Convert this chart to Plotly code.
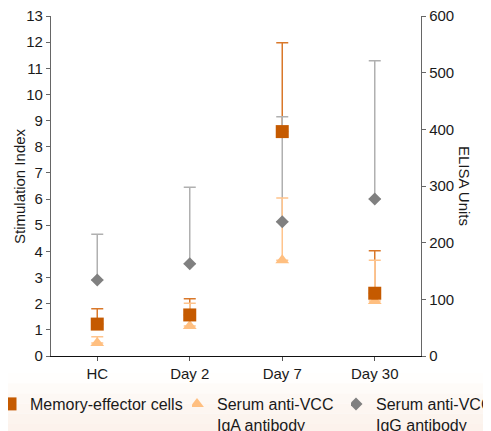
import plotly.graph_objects as go

categories = ["HC", "Day 2", "Day 7", "Day 30"]

memory_si = [1.22, 1.57, 8.58, 2.40]
memory_si_upper = [1.81, 2.19, 11.98, 4.02]

iga_elisa = [23, 53, 169, 97]
iga_elisa_upper = [34, 93, 279, 169]

igg_elisa = [134, 163, 237, 277]
igg_elisa_upper = [215, 298, 422, 521]

left_ticks = list(range(0, 14))
right_ticks = [0, 100, 200, 300, 400, 500, 600]

names = ["Memory-effector cells", "Serum anti-VCC<br>IgA antibody", "Serum anti-VCC<br>IgG antibody"]

c_mem = "#C55A00"
c_mem_err = "#D9782A"
c_iga = "#FFBF80"
c_iga_err = "#FFC48C"
c_igg = "#808080"
c_igg_err = "#B0B0B0"

FONT = "Liberation Sans, Arial, sans-serif"
TXT = "#1a1a1a"


def up(vals, uppers):
    return [u - v for v, u in zip(vals, uppers)]


fig = go.Figure()

# error bars (drawn below markers)
fig.add_trace(go.Scatter(
    x=categories, y=memory_si, mode="markers", yaxis="y",
    marker=dict(size=1, opacity=0), showlegend=False, hoverinfo="skip",
    error_y=dict(type="data", symmetric=False, array=up(memory_si, memory_si_upper),
                 arrayminus=[0] * 4, color=c_mem_err, thickness=1.5, width=6)))
fig.add_trace(go.Scatter(
    x=categories, y=igg_elisa, mode="markers", yaxis="y2",
    marker=dict(size=1, opacity=0), showlegend=False, hoverinfo="skip",
    error_y=dict(type="data", symmetric=False, array=up(igg_elisa, igg_elisa_upper),
                 arrayminus=[0] * 4, color=c_igg_err, thickness=1.5, width=6)))
fig.add_trace(go.Scatter(
    x=categories, y=iga_elisa, mode="markers", yaxis="y2",
    marker=dict(size=1, opacity=0), showlegend=False, hoverinfo="skip",
    error_y=dict(type="data", symmetric=False, array=up(iga_elisa, iga_elisa_upper),
                 arrayminus=[0] * 4, color=c_iga_err, thickness=1.5, width=6)))

# markers
fig.add_trace(go.Scatter(
    x=categories, y=igg_elisa, mode="markers", yaxis="y2", name=names[2], legend="legend3",
    marker=dict(symbol="diamond", size=10, color=c_igg)))
fig.add_trace(go.Scatter(
    x=categories, y=iga_elisa, mode="markers", yaxis="y2", name=names[1], legend="legend2",
    marker=dict(symbol="triangle-up", size=12, color=c_iga)))
fig.add_trace(go.Scatter(
    x=categories, y=memory_si, mode="markers", yaxis="y3", name=names[0], legend="legend",
    marker=dict(symbol="square", size=13, color=c_mem)))

# light peach band behind the legend
band_colors = ["#FFFEFD", "#FEFBF8", "#FDF8F4", "#FDF6F1", "#FCF4EE", "#FCF2EC"]
band_edges = [-0.05, -0.08, -0.11, -0.14, -0.17, -0.20, -0.26]
for i, col in enumerate(band_colors):
    fig.add_shape(type="rect", xref="paper", yref="paper", x0=-0.2, x1=1.3,
                  y0=band_edges[i + 1], y1=band_edges[i], fillcolor=col,
                  line=dict(width=0), layer="below")

axis_common = dict(showgrid=False, zeroline=False, ticks="outside", ticklen=4,
                   tickwidth=1, ticklabeloverflow="allow",
                   tickfont=dict(family=FONT, size=15, color=TXT))


def leg(xpix):
    return dict(orientation="h", xref="paper", yref="container",
                x=(xpix - 43) / 370, xanchor="left", y=1 - 379 / 431, yanchor="top",
                bgcolor="rgba(0,0,0,0)", valign="top", itemwidth=30, indentation=-15,
                font=dict(family=FONT, size=16, color=TXT))


fig.update_layout(
    width=491, height=431,
    margin=dict(l=43, r=78, t=8, b=83, autoexpand=False),
    paper_bgcolor="white", plot_bgcolor="white",
    font=dict(family=FONT, size=15, color=TXT),
    xaxis=dict(**axis_common, range=[-0.5, 3.5], showline=True, linecolor="#111",
               linewidth=1.3, tickcolor="#555"),
    yaxis=dict(**axis_common, range=[0, 13], tickvals=left_ticks, showline=True,
               linecolor="#666", linewidth=1.3, tickcolor="#666"),
    yaxis2=dict(**axis_common, range=[0, 600], tickvals=right_ticks, overlaying="y",
                side="right", showline=True, linecolor="#666", linewidth=1.3, tickcolor="#666"),
    yaxis3=dict(range=[0, 13], overlaying="y", visible=False),
    legend=leg(-3),
    legend2=leg(184),
    legend3=leg(343),
    annotations=[
        dict(text="Stimulation Index", xref="paper", yref="paper", x=-0.0865, y=0.5,
             textangle=-90, showarrow=False, xanchor="center", yanchor="middle",
             font=dict(family=FONT, size=15, color=TXT)),
        dict(text="ELISA Units", xref="paper", yref="paper", x=1.119, y=0.5,
             textangle=90, showarrow=False, xanchor="center", yanchor="middle",
             font=dict(family=FONT, size=15, color=TXT)),
    ],
)

fig.write_html("out.html")
